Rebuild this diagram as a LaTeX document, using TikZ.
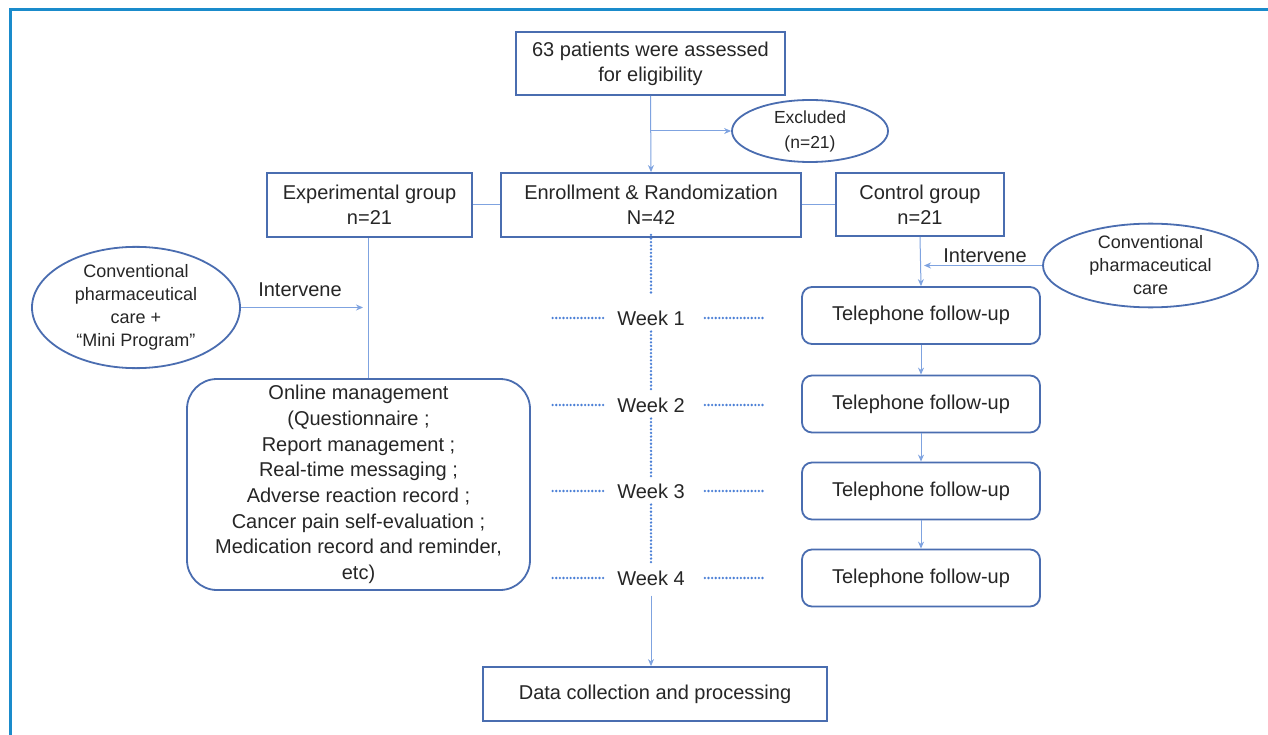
\documentclass[tikz,border=0pt]{standalone}
\usepackage{fontspec}
\setmainfont{Liberation Sans}
\usetikzlibrary{shapes.geometric,arrows.meta}
\definecolor{boxblue}{HTML}{4A6DB0}
\definecolor{lineblue}{HTML}{7FA3E0}
\definecolor{dotblue}{HTML}{4A7FD6}
\definecolor{frameblue}{HTML}{1A8BCB}
\definecolor{txt}{HTML}{262626}
\tikzset{
  box/.style={draw=boxblue, line width=1.8pt, align=center, inner sep=0pt, text=txt,
    font=\fontsize{20}{25}\selectfont},
  rbox/.style={box, rounded corners=10pt},
  oval/.style={ellipse, draw=boxblue, line width=1.8pt, align=center, inner sep=0pt, text=txt,
    font=\fontsize{18}{23}\selectfont},
  conn/.style={draw=lineblue, line width=1pt},
  arr/.style={conn, -{Stealth[length=7pt,width=6pt]}},
  dots/.style={draw=dotblue, line width=2.6pt, line cap=round, dash pattern=on 0pt off 3.6pt},
  weeklab/.style={text=txt, font=\fontsize{20}{25}\selectfont, inner sep=2pt},
  lab/.style={text=txt, font=\fontsize{20}{25}\selectfont, inner sep=0pt}
}
\begin{document}
\begin{tikzpicture}[x=1pt,y=-1pt]
\useasboundingbox (0,0) rectangle (1268,735);
\fill[white] (0,0) rectangle (1268,735);
% frame
\draw[frameblue, line width=3pt] (1268,9.5) -- (10.5,9.5) -- (10.5,735);

% nodes
\node[box, minimum width=269pt, minimum height=63pt] (top) at (650.5,63.5) {63 patients were assessed\\for eligibility};
\node[oval, minimum width=156pt, minimum height=62pt, font=\fontsize{17.5}{25}\selectfont] (exc) at (810,131) {Excluded\\(n=21)};
\node[box, minimum width=300pt, minimum height=64pt] (enroll) at (651,205) {Enrollment \& Randomization\\N=42};
\node[box, minimum width=205pt, minimum height=64pt] (exp) at (369.5,205) {Experimental group\\n=21};
\node[box, minimum width=168pt, minimum height=63pt] (ctrl) at (920,204.5) {Control group\\n=21};
\node[oval, minimum width=208pt, minimum height=105pt] (lell) at (136,307.5) {Conventional\\pharmaceutical\\care +\\“Mini Program”};
\node[oval, minimum width=215pt, minimum height=75pt] (rell) at (1150.5,265.5) {Conventional\\pharmaceutical\\care};
\node[box, rounded corners=30pt, minimum width=343pt, minimum height=211pt, font=\fontsize{20}{25.7}\selectfont] (online) at (358.5,484.5) {Online management\\ (Questionnaire ;\\Report management ;\\Real-time messaging ;\\Adverse reaction record ;\\Cancer pain self-evaluation ;\\Medication record and reminder,\\etc)};
\node[rbox, minimum width=238pt, minimum height=57pt] (t1) at (921,315.5) {Telephone follow-up};
\node[rbox, minimum width=238pt, minimum height=57pt] (t2) at (921,404) {Telephone follow-up};
\node[rbox, minimum width=238pt, minimum height=57pt] (t3) at (921,491) {Telephone follow-up};
\node[rbox, minimum width=238pt, minimum height=57pt] (t4) at (921,578) {Telephone follow-up};
\node[box, minimum width=344pt, minimum height=54pt] (data) at (655,694) {Data collection and processing};

\node[weeklab] (w1) at (651,318) {Week 1};
\node[weeklab] (w2) at (651,405) {Week 2};
\node[weeklab] (w3) at (651,491) {Week 3};
\node[weeklab] (w4) at (651,578) {Week 4};

\node[lab] (intl) at (300,290) {Intervene};
\node[lab] (intr) at (985,256) {Intervene};

\coordinate (ev) at (368,300);

% connectors
\draw[arr] (top.south) -- (enroll.north);
\draw[arr] (top.south |- exc.west) -- (exc.west);
\draw[conn] (exp.east) -- (enroll.west);
\draw[conn] (enroll.east) -- (ctrl.west |- enroll.east);
\draw[conn] (exp.south -| ev) -- (ev |- online.north);
\draw[arr, shorten >=5pt] (lell.east) -- (ev |- lell.east);
\draw[arr] (ctrl.south) -- (t1.north);
\draw[arr, shorten >=4pt] (rell.west) -- (ctrl.south |- rell.west);
\draw[arr] (t1.south) -- (t2.north);
\draw[arr] (t2.south) -- (t3.north);
\draw[arr] (t3.south) -- (t4.north);
\draw[arr, shorten <=8pt] (w4.south) -- (w4.south |- data.north);

% dotted timeline
\draw[dots] ([yshift=3pt]enroll.south) -- ++(0,59);
\draw[dots, shorten <=4pt, shorten >=4pt] (w1.south) -- (w2.north);
\draw[dots, shorten <=4pt, shorten >=4pt] (w2.south) -- (w3.north);
\draw[dots, shorten <=4pt, shorten >=4pt] (w3.south) -- (w4.north);
\foreach \w in {w1,w2,w3,w4}{
  \draw[dots] ([xshift=-12pt]\w.west) -- ++(-53,0);
  \draw[dots] ([xshift=18pt]\w.east) -- ++(60,0);
}
\end{tikzpicture}
\end{document}
